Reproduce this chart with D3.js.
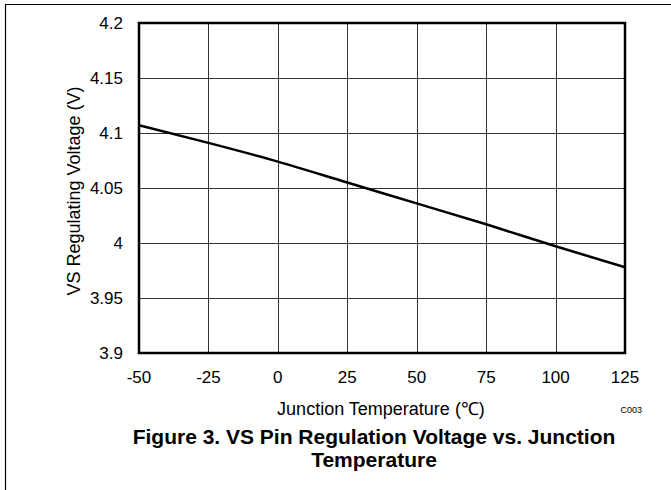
<!DOCTYPE html>
<html><head><meta charset="utf-8">
<script src="https://cdn.jsdelivr.net/npm/d3@7"></script>
<style>body{margin:0;background:#fff;} svg{display:block;font-family:Arial,"Liberation Sans",sans-serif;}</style>
</head><body>
<svg id="c" width="671" height="490"></svg>
<script>
const temps = [-50, -25, 0, 25, 50, 75, 100, 125];
const volts = [4.107, 4.091, 4.074, 4.055, 4.036, 4.017, 3.997, 3.978];
const xTicks = [-50, -25, 0, 25, 50, 75, 100, 125];
const yTicks = [3.9, 3.95, 4, 4.05, 4.1, 4.15, 4.2];
const xTitle = "Junction Temperature (\u2103)";
const yTitle = "VS Regulating Voltage (V)";
const caption = ["Figure 3. VS Pin Regulation Voltage vs. Junction", "Temperature"];
const code = "C003";

const svg = d3.select("#c");
const L = 139, R = 625, T = 23, B = 353;
const x = d3.scaleLinear().domain([-50, 125]).range([L, R]);
const y = d3.scaleLinear().domain([3.9, 4.2]).range([B, T]);

// figure frame
svg.append("line").attr("x1", 5.5).attr("x2", 5.5).attr("y1", 4).attr("y2", 490).attr("stroke", "#000").attr("stroke-width", 1.2);
svg.append("line").attr("x1", 5).attr("x2", 671).attr("y1", 4.5).attr("y2", 4.5).attr("stroke", "#000").attr("stroke-width", 1.2);

// grid
const g = svg.append("g");
g.selectAll(".vx").data(xTicks.slice(1, -1)).join("line")
  .attr("x1", d => Math.round(x(d)) + 0.5).attr("x2", d => Math.round(x(d)) + 0.5)
  .attr("y1", T).attr("y2", B).attr("stroke", "#333").attr("stroke-width", 1);
g.selectAll(".hy").data(yTicks.slice(1, -1)).join("line")
  .attr("y1", d => Math.round(y(d)) + 0.5).attr("y2", d => Math.round(y(d)) + 0.5)
  .attr("x1", L).attr("x2", R).attr("stroke", "#333").attr("stroke-width", 1);

// data line
svg.append("path").datum(temps.map((t, i) => [t, volts[i]]))
  .attr("fill", "none").attr("stroke", "#000").attr("stroke-width", 2.5)
  .attr("d", d3.line().x(d => x(d[0])).y(d => y(d[1])).curve(d3.curveMonotoneX));

// plot border
svg.append("rect").attr("x", L).attr("y", T).attr("width", R - L).attr("height", B - T)
  .attr("fill", "none").attr("stroke", "#000").attr("stroke-width", 2.5);

// tick labels
svg.selectAll(".xt").data(xTicks).join("text")
  .attr("x", d => x(d)).attr("y", 383).attr("text-anchor", "middle")
  .attr("font-size", 17).attr("fill", "#000").text(d => d);
svg.selectAll(".yt").data(yTicks).join("text")
  .attr("x", 123).attr("y", d => y(d) + 6).attr("text-anchor", "end")
  .attr("font-size", 17).attr("fill", "#000").text(d => d);

// axis titles
svg.append("text").attr("x", 381).attr("y", 415).attr("text-anchor", "middle")
  .attr("font-size", 18).text(xTitle);
svg.append("text").attr("transform", "translate(80,191) rotate(-90)").attr("text-anchor", "middle")
  .attr("font-size", 18).text(yTitle);
svg.append("text").attr("x", 642).attr("y", 413).attr("text-anchor", "end")
  .attr("font-size", 9).text(code);

// caption
svg.selectAll(".cap").data(caption).join("text")
  .attr("x", 374).attr("y", (d, i) => 444 + i * 23).attr("text-anchor", "middle")
  .attr("font-size", 21).attr("font-weight", "bold").text(d => d);
</script>
</body></html>
